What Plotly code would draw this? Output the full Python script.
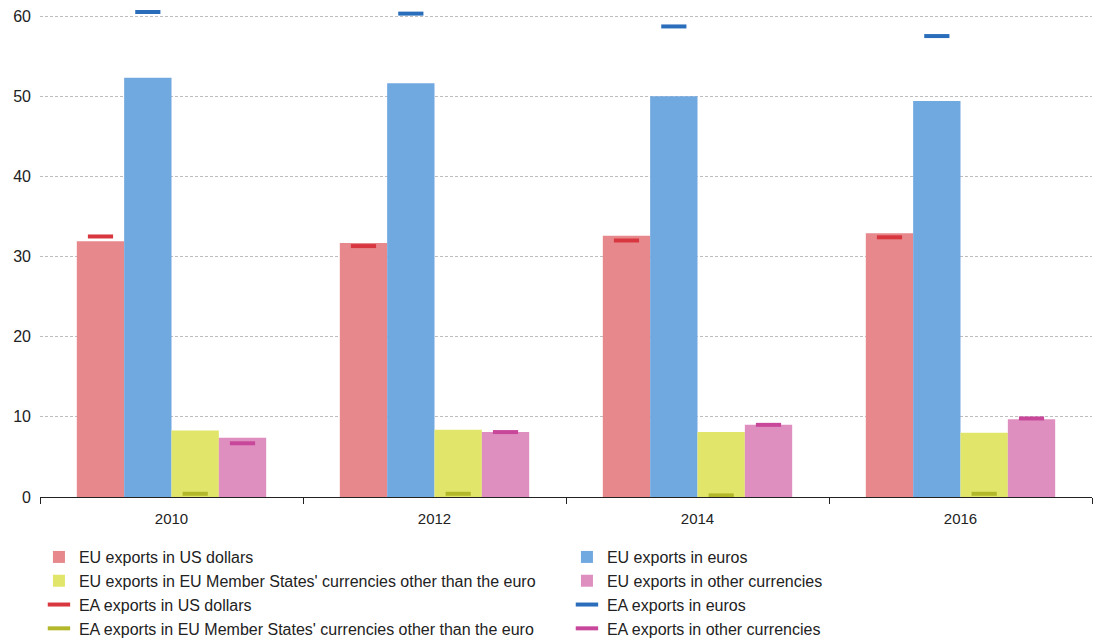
import plotly.graph_objects as go

years = ["2010", "2012", "2014", "2016"]

eu_usd = [31.9, 31.7, 32.6, 32.9]
eu_eur = [52.3, 51.6, 50.0, 49.4]
eu_ms = [8.3, 8.4, 8.1, 8.0]
eu_oth = [7.4, 8.1, 9.0, 9.7]

ea_usd = [32.5, 31.3, 32.0, 32.4]
ea_eur = [60.5, 60.3, 58.7, 57.5]
ea_ms = [0.4, 0.4, 0.2, 0.4]
ea_oth = [6.7, 8.1, 9.0, 9.8]

bar_names = ["EU exports in US dollars", "EU exports in euros",
             "EU exports in EU Member States' currencies other than the euro",
             "EU exports in other currencies"]
ea_names = ["EA exports in US dollars", "EA exports in euros",
            "EA exports in EU Member States' currencies other than the euro",
            "EA exports in other currencies"]
bar_colors = ["#E6888C", "#70A8E0", "#E1E66A", "#DE8FBF"]
ea_colors = ["#D9373F", "#2A6EBB", "#B2B82A", "#C9479A"]

fig = go.Figure()
for i, (n, v, c) in enumerate(zip(bar_names, [eu_usd, eu_eur, eu_ms, eu_oth], bar_colors)):
    fig.add_trace(go.Bar(x=years, y=v, name=n, marker=dict(color=c, line=dict(width=0)),
                         offsetgroup=str(i)))
for i, (n, v, c) in enumerate(zip(ea_names, [ea_usd, ea_eur, ea_ms, ea_oth], ea_colors)):
    fig.add_trace(go.Scatter(x=years, y=v, name=n, mode="markers",
                             marker=dict(symbol="line-ew", size=18, color=c,
                                         line=dict(width=4, color=c)),
                             offsetgroup=str(i), cliponaxis=False))

fig.update_layout(
    width=1095, height=639,
    barmode="group", bargap=0.28, bargroupgap=0,
    scattermode="group", scattergap=0.28,
    plot_bgcolor="white", paper_bgcolor="white",
    margin=dict(l=40, r=3, t=8, b=142, autoexpand=False),
    font=dict(family="Liberation Sans, Arial, sans-serif", color="#222222"),
    showlegend=True,
    legend=dict(orientation="h", x=-0.001, xanchor="left", y=-0.088, yanchor="top",
                entrywidth=483, entrywidthmode="pixels", font=dict(size=16, color="#222222"),
                itemwidth=30, tracegroupgap=0, traceorder="normal"),
    xaxis=dict(type="category", showline=True, linecolor="#222222", linewidth=1,
               ticks="outside", tickson="boundaries", ticklen=6, tickcolor="#222222",
               tickfont=dict(size=15), showgrid=False, ticklabelstandoff=8),
    yaxis=dict(range=[0, 61], tickvals=[0, 10, 20, 30, 40, 50, 60], showgrid=True,
               gridcolor="#BDBDBD", griddash="3px,2px",
               gridwidth=1, zeroline=False, tickfont=dict(size=16), ticks="", showline=False,
               ticklabelstandoff=8),
)

fig.write_html("out.html")
